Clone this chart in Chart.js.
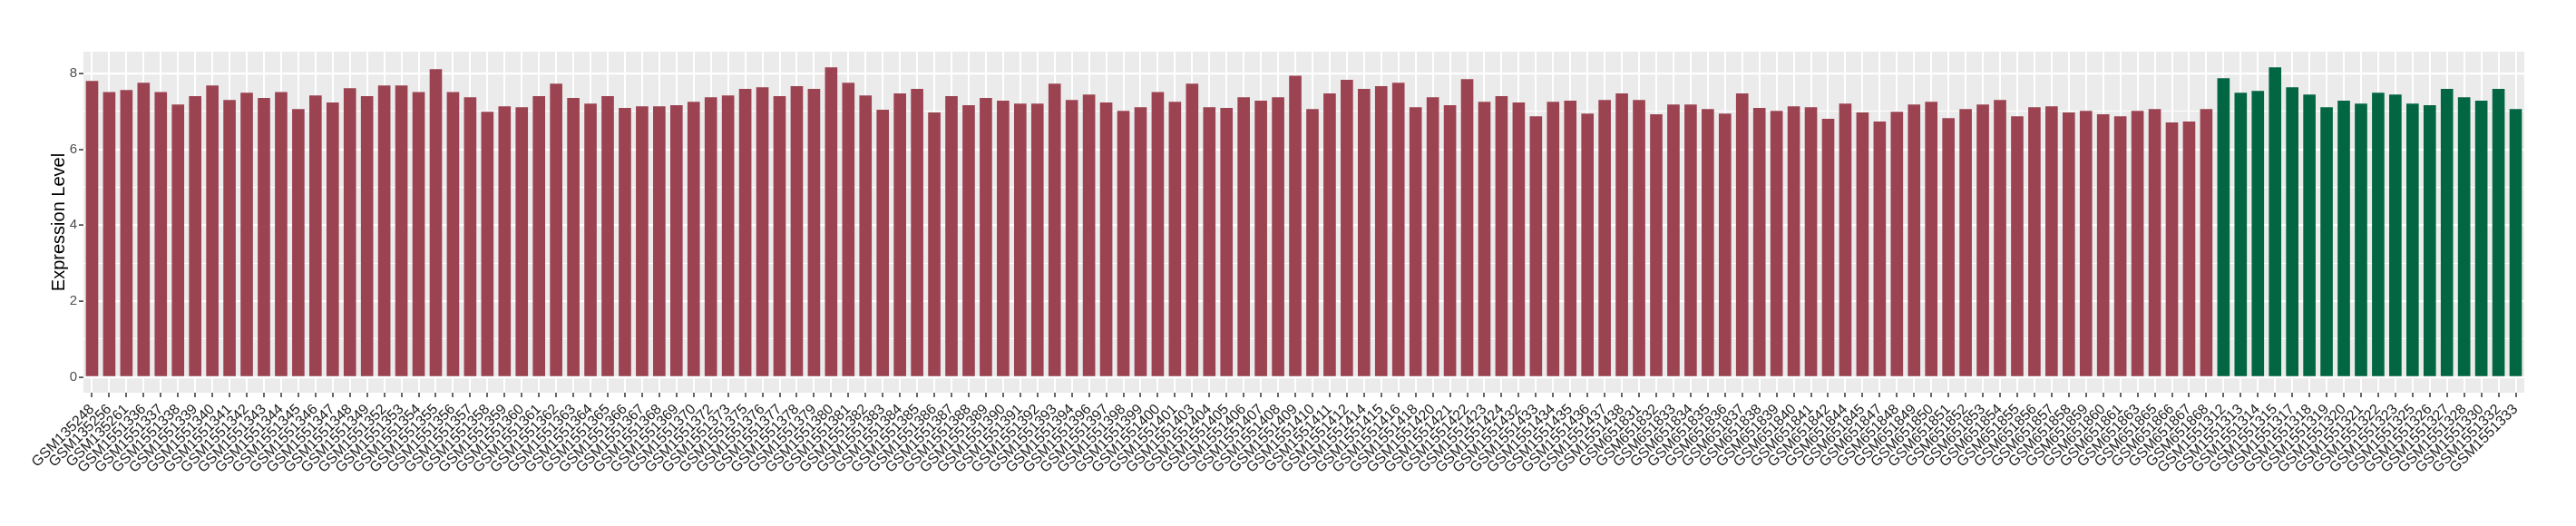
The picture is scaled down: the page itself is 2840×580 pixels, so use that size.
<!DOCTYPE html>
<html>
<head>
<meta charset="utf-8">
<script src="https://cdn.jsdelivr.net/npm/chart.js@4.4.0/dist/chart.umd.min.js"></script>
<style>
  html, body { margin: 0; padding: 0; background: #ffffff; }
  #wrap { width: 2840px; height: 580px; }
</style>
</head>
<body>
<div id="wrap"><canvas id="expression-canvas" width="2840" height="580"></canvas></div>
<script>
    // samples shown in red (first group)
    var controlSamples = [
        "GSM135248", "GSM135256", "GSM135261",
        "GSM1551336", "GSM1551337", "GSM1551338", "GSM1551339", "GSM1551340", "GSM1551341", "GSM1551342",
        "GSM1551343", "GSM1551344", "GSM1551345", "GSM1551346", "GSM1551347", "GSM1551348", "GSM1551349",
        "GSM1551352", "GSM1551353", "GSM1551354", "GSM1551355", "GSM1551356", "GSM1551357", "GSM1551358",
        "GSM1551359", "GSM1551360", "GSM1551361", "GSM1551362", "GSM1551363", "GSM1551364", "GSM1551365",
        "GSM1551366", "GSM1551367", "GSM1551368", "GSM1551369", "GSM1551370", "GSM1551372", "GSM1551373",
        "GSM1551375", "GSM1551376", "GSM1551377", "GSM1551378", "GSM1551379", "GSM1551380", "GSM1551381",
        "GSM1551382", "GSM1551383", "GSM1551384", "GSM1551385", "GSM1551386", "GSM1551387", "GSM1551388",
        "GSM1551389", "GSM1551390", "GSM1551391", "GSM1551392", "GSM1551393", "GSM1551394", "GSM1551396",
        "GSM1551397", "GSM1551398", "GSM1551399", "GSM1551400", "GSM1551401", "GSM1551403", "GSM1551404",
        "GSM1551405", "GSM1551406", "GSM1551407", "GSM1551408", "GSM1551409", "GSM1551410", "GSM1551411",
        "GSM1551412", "GSM1551414", "GSM1551415", "GSM1551416", "GSM1551418", "GSM1551420", "GSM1551421",
        "GSM1551422", "GSM1551423", "GSM1551424", "GSM1551432", "GSM1551433", "GSM1551434", "GSM1551435",
        "GSM1551436", "GSM1551437", "GSM1551438",
        "GSM651831", "GSM651832", "GSM651833", "GSM651834", "GSM651835", "GSM651836", "GSM651837",
        "GSM651838", "GSM651839", "GSM651840", "GSM651841", "GSM651842", "GSM651844", "GSM651845",
        "GSM651847", "GSM651848", "GSM651849", "GSM651850", "GSM651851", "GSM651852", "GSM651853",
        "GSM651854", "GSM651855", "GSM651856", "GSM651857", "GSM651858", "GSM651859", "GSM651860",
        "GSM651861", "GSM651863", "GSM651865", "GSM651866", "GSM651867", "GSM651868"
    ];
    var controlValues = [
        7.80, 7.51, 7.56, 7.75, 7.51, 7.18, 7.40, 7.68, 7.30, 7.49, 7.35, 7.51, 7.06, 7.42, 7.23, 7.61,
        7.40, 7.68, 7.68, 7.51, 8.11, 7.51, 7.37, 6.99, 7.13, 7.11, 7.40, 7.73, 7.35, 7.20, 7.40, 7.09,
        7.13, 7.13, 7.16, 7.25, 7.37, 7.42, 7.59, 7.63, 7.40, 7.66, 7.59, 8.16, 7.75, 7.42, 7.04, 7.47,
        7.59, 6.97, 7.40, 7.16, 7.35, 7.28, 7.20, 7.20, 7.73, 7.30, 7.44, 7.23, 7.01, 7.11, 7.51, 7.25,
        7.73, 7.11, 7.09, 7.37, 7.28, 7.37, 7.94, 7.06, 7.47, 7.83, 7.59, 7.66, 7.75, 7.11, 7.37, 7.16,
        7.85, 7.25, 7.40, 7.23, 6.87, 7.25, 7.28, 6.94, 7.30, 7.47, 7.30, 6.92, 7.18, 7.18, 7.06, 6.94,
        7.47, 7.09, 7.01, 7.13, 7.11, 6.80, 7.20, 6.97, 6.73, 6.99, 7.18, 7.25, 6.82, 7.06, 7.18, 7.30,
        6.87, 7.11, 7.13, 6.97, 7.01, 6.92, 6.87, 7.01, 7.06, 6.71, 6.73, 7.06
    ];

    // samples shown in green (second group)
    var caseSamples = [
        "GSM1551312", "GSM1551313", "GSM1551314", "GSM1551315", "GSM1551317", "GSM1551318",
        "GSM1551319", "GSM1551320", "GSM1551321", "GSM1551322", "GSM1551323", "GSM1551325",
        "GSM1551326", "GSM1551327", "GSM1551328", "GSM1551330", "GSM1551332", "GSM1551333"
    ];
    var caseValues = [
        7.87, 7.49, 7.54, 8.16, 7.63, 7.44, 7.11, 7.28, 7.20, 7.49, 7.44, 7.20, 7.16, 7.59, 7.37, 7.28,
        7.59, 7.06
    ];

    var yMajorTicks = [0, 2, 4, 6, 8];
    var yMinorTicks = [1, 3, 5, 7];

    var controlColor = "#9B4351";
    var caseColor = "#036643";

    var labels = controlSamples.concat(caseSamples);
    var values = controlValues.concat(caseValues);
    var barColors = [];
    for (var i = 0; i < controlSamples.length; i++) barColors.push(controlColor);
    for (var j = 0; j < caseSamples.length; j++) barColors.push(caseColor);

    // grey panel like ggplot's theme_gray
    var panelBackground = {
        id: "panelBackground",
        beforeDraw: function(chart) {
            var a = chart.chartArea;
            var ctx = chart.ctx;
            ctx.save();
            ctx.fillStyle = "#EBEBEB";
            ctx.fillRect(a.left, a.top, a.right - a.left, a.bottom - a.top);
            ctx.restore();
        }
    };

    var isMajor = function(value) {
        return yMajorTicks.indexOf(value) !== -1;
    };

    var ctx = document.getElementById("expression-canvas").getContext("2d");
    var chart = new Chart(ctx, {
        type: "bar",
        data: {
            labels: labels,
            datasets: [{
                label: "Expression Level",
                data: values,
                backgroundColor: barColors,
                borderWidth: 0,
                categoryPercentage: 1.0,
                barPercentage: 0.72
            }]
        },
        plugins: [panelBackground],
        options: {
            responsive: false,
            animation: false,
            devicePixelRatio: 1,
            layout: { padding: { left: 0, top: 57, right: 57, bottom: 0 } },
            plugins: {
                legend: { display: false },
                tooltip: { enabled: false }
            },
            scales: {
                x: {
                    offset: true,
                    border: { display: false },
                    grid: {
                        offset: false,
                        color: "#FFFFFF",
                        lineWidth: 2,
                        drawTicks: true,
                        tickLength: 5,
                        tickColor: "#333333",
                        tickWidth: 1.5
                    },
                    ticks: {
                        autoSkip: false,
                        maxRotation: 45,
                        minRotation: 45,
                        padding: 4,
                        color: "#1A1A1A",
                        font: { family: "'Liberation Sans', Arial, sans-serif", size: 16 }
                    },
                    afterFit: function(scale) {
                        scale.height = 147;
                    }
                },
                y: {
                    min: -0.41,
                    max: 8.57,
                    border: { display: false },
                    afterBuildTicks: function(scale) {
                        var all = yMajorTicks.concat(yMinorTicks).sort(function(a, b) { return a - b; });
                        scale.ticks = all.map(function(v) { return { value: v }; });
                    },
                    grid: {
                        color: "#FFFFFF",
                        lineWidth: function(c) { return isMajor(c.tick.value) ? 2.2 : 1.1; },
                        drawTicks: true,
                        tickLength: 5,
                        tickWidth: 1.5,
                        tickColor: function(c) { return isMajor(c.tick.value) ? "#333333" : "rgba(0,0,0,0)"; }
                    },
                    ticks: {
                        padding: 2,
                        color: "#4D4D4D",
                        font: { family: "'Liberation Sans', Arial, sans-serif", size: 15 },
                        callback: function(value) {
                            return isMajor(value) ? String(value) : "";
                        }
                    },
                    title: {
                        display: true,
                        text: "Expression Level",
                        color: "#000000",
                        padding: { top: 53, bottom: 0 },
                        font: { family: "'Liberation Sans', Arial, sans-serif", size: 20 }
                    },
                    afterFit: function(scale) {
                        scale.width = 92;
                    }
                }
            }
        }
    });
</script>
</body>
</html>
